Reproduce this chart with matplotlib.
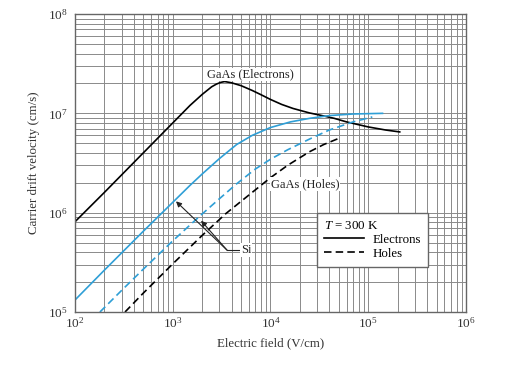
import matplotlib
matplotlib.use("Agg")
import matplotlib.pyplot as plt
from matplotlib.lines import Line2D
from matplotlib.ticker import LogLocator, FixedLocator

plt.rcParams['font.family'] = ['Liberation Serif', 'DejaVu Serif']
plt.rcParams['mathtext.fontset'] = 'custom'
plt.rcParams['mathtext.rm'] = 'Liberation Serif'
plt.rcParams['mathtext.it'] = 'Liberation Serif:italic'

# GaAs electrons (black solid)
gaas_e_E = [100, 200, 500, 1000, 1500, 2000, 2500, 2800, 3100, 3400, 4000, 5000, 6500, 8000,
            10000, 13000, 17000, 25000, 32000, 45000, 60000, 100000, 150000, 210000]
gaas_e_v = [8.1e5, 1.6e6, 4.0e6, 8.0e6, 1.2e7, 1.55e7, 1.85e7, 1.97e7, 2.05e7, 2.09e7,
            2.03e7, 1.9e7, 1.7e7, 1.54e7, 1.38e7, 1.23e7, 1.12e7, 1.01e7, 9.6e6, 8.9e6,
            8.2e6, 7.3e6, 6.8e6, 6.5e6]

# Si electrons (blue solid)
si_e_E = [100, 200, 500, 1000, 1500, 2000, 3000, 4500, 6500, 10000, 16000, 25000, 40000, 70000, 140000]
si_e_v = [1.32e5, 2.64e5, 6.5e5, 1.27e6, 1.88e6, 2.45e6, 3.5e6, 4.85e6, 6.0e6, 7.2e6,
          8.2e6, 8.9e6, 9.5e6, 9.85e6, 1.0e7]

# Si holes (blue dashed)
si_h_E = [180, 300, 500, 1000, 1500, 2000, 3000, 4500, 7000, 10000, 15000, 25000, 40000, 70000, 110000]
si_h_v = [1.0e5, 1.65e5, 2.7e5, 5.2e5, 7.5e5, 9.7e5, 1.38e6, 1.95e6, 2.75e6, 3.45e6,
          4.3e6, 5.5e6, 6.8e6, 8.2e6, 9.2e6]

# GaAs holes (black dashed)
gaas_h_E = [325, 500, 1000, 2000, 3500, 6500, 10000, 15000, 25000, 35000, 50000]
gaas_h_v = [1.0e5, 1.55e5, 3.05e5, 5.9e5, 9.8e5, 1.6e6, 2.25e6, 3.0e6, 4.1e6, 4.85e6, 5.6e6]

x_ticks = [1e2, 1e3, 1e4, 1e5, 1e6]
x_ticklabels = [r'$10^{2}$', r'$10^{3}$', r'$10^{4}$', r'$10^{5}$', r'$10^{6}$']
y_ticks = [1e5, 1e6, 1e7, 1e8]
y_ticklabels = [r'$10^{5}$', r'$10^{6}$', r'$10^{7}$', r'$10^{8}$']

BLUE = '#2f9fd6'
FS = 9.3
TXT = '#222222'

fig = plt.figure(figsize=(5.09, 3.65), dpi=100)
ax = fig.add_axes([0.1473, 0.1452, 0.7682, 0.8164])
ax.set_xscale('log')
ax.set_yscale('log')
ax.set_xlim(1e2, 1e6)
ax.set_ylim(1e5, 1e8)

ax.xaxis.set_major_locator(FixedLocator(x_ticks))
ax.yaxis.set_major_locator(FixedLocator(y_ticks))
ax.set_xticklabels(x_ticklabels)
ax.set_yticklabels(y_ticklabels)
ax.xaxis.set_minor_locator(LogLocator(base=10, subs=range(2, 10)))
ax.yaxis.set_minor_locator(LogLocator(base=10, subs=range(2, 10)))
ax.tick_params(which='both', length=0, labelsize=9.5, colors='#333333')
ax.tick_params(axis='x', pad=3)
ax.tick_params(axis='y', pad=5)
ax.grid(True, which='both', color='#8a8a8a', linewidth=0.7)
ax.set_axisbelow(True)
for s in ax.spines.values():
    s.set_color('#666666')
    s.set_linewidth(1.0)

dash = (0, (4.5, 2.5))
lw = 1.2
ax.plot(gaas_e_E, gaas_e_v, color='black', lw=lw)
ax.plot(si_e_E, si_e_v, color=BLUE, lw=lw)
ax.plot(si_h_E, si_h_v, color=BLUE, lw=lw, linestyle=dash)
ax.plot(gaas_h_E, gaas_h_v, color='black', lw=lw, linestyle=dash)

bbox = dict(facecolor='white', edgecolor='none', pad=0.5)
ax.text(6170, 2.45e7, 'GaAs (Electrons)', ha='center', va='center', fontsize=9,
        color=TXT, bbox=bbox)
ax.text(22500, 1.95e6, 'GaAs (Holes)', ha='center', va='center', fontsize=9,
        color=TXT, bbox=bbox)
ax.text(5000, 4.2e5, 'Si', ha='left', va='center', fontsize=9, color=TXT, bbox=bbox)

# Si pointer
corner = (3590, 4.2e5)
ax.plot([corner[0], 4900], [corner[1], corner[1]], color=TXT, lw=0.8)
ax.annotate('', xy=(1080, 1.3e6), xytext=corner,
            arrowprops=dict(arrowstyle='-|>', color=TXT, lw=0.8,
                            mutation_scale=8, shrinkA=0, shrinkB=0))
ax.annotate('', xy=(1950, 8.3e5), xytext=corner,
            arrowprops=dict(arrowstyle='-|>', color=TXT, lw=0.8,
                            mutation_scale=8, shrinkA=0, shrinkB=0))

ax.set_xlabel('Electric field (V/cm)', fontsize=FS, color='#333333', labelpad=5)
ax.set_ylabel('Carrier drift velocity (cm/s)', fontsize=FS, color='#333333', labelpad=6)

handles = [Line2D([], [], color='black', lw=lw),
           Line2D([], [], color='black', lw=lw, linestyle=dash)]
leg = ax.legend(handles, ['Electrons', 'Holes'], title=r'$T$ = 300 K',
                loc='lower left', bbox_to_anchor=(0.619, 0.151), fontsize=FS,
                title_fontsize=FS, fancybox=False, framealpha=1, edgecolor='#666666',
                handlelength=3.1, borderpad=0.55, labelspacing=0.15, handletextpad=0.65,
                alignment='left', borderaxespad=0)
leg.get_frame().set_linewidth(1.0)
fig.savefig('out.png', dpi=100)
